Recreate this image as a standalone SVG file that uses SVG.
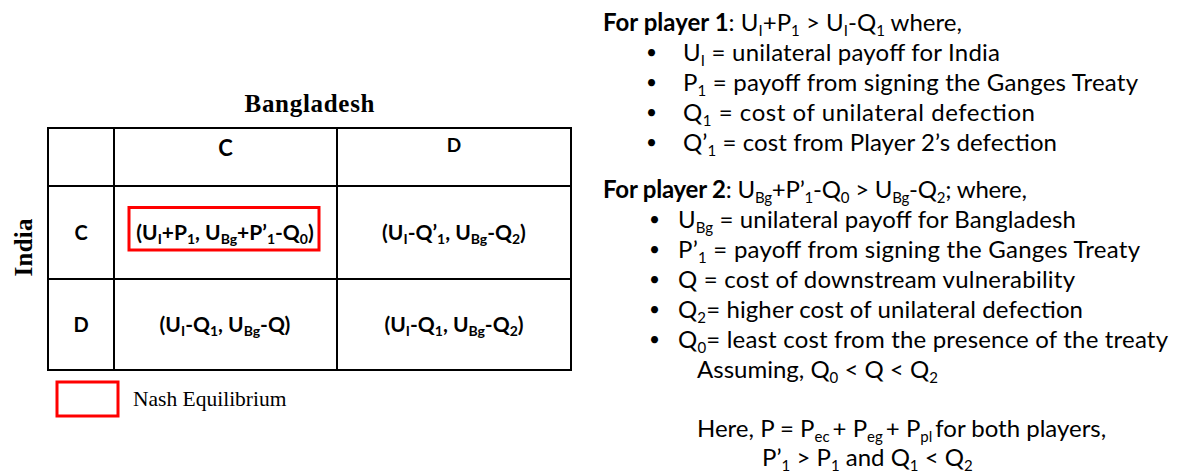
<svg xmlns="http://www.w3.org/2000/svg" width="1177" height="472" viewBox="0 0 1177 472">
  <style>
    .serif { font-family: "Liberation Serif", "Times New Roman", serif; fill: #000; }
    .cell { font-family: Lato, "Open Sans", sans-serif; font-weight: bold; font-size: 21px; fill: #000; text-anchor: middle; }
    .head { font-family: Lato, "Open Sans", sans-serif; font-weight: bold; fill: #000; text-anchor: middle; }
    .txt { font-family: Lato, "Open Sans", sans-serif; font-size: 24px; fill: #000; }
    .dot { font-family: Lato, "Open Sans", sans-serif; font-size: 19px; fill: #000; }
    .grid { stroke: #000; stroke-width: 2; fill: none; }
    .ne { stroke: #ff0000; stroke-width: 3; fill: none; }
    .s { font-size: 14px; }
    .t { font-size: 15px; }
  </style>

  <!-- Axis titles -->
  <g id="title-bangladesh">
    <text class="serif" x="309.5" y="112" font-size="25" font-weight="bold" text-anchor="middle" textLength="130" lengthAdjust="spacing">Bangladesh</text>
  </g>
  <g id="title-india">
    <text class="serif" transform="translate(31.5,247.5) rotate(-90)" x="0" y="0" font-size="25" font-weight="bold" text-anchor="middle" textLength="58" lengthAdjust="spacing">India</text>
  </g>

  <!-- Payoff matrix grid -->
  <g id="matrix-grid">
    <rect class="grid" x="48" y="128" width="523" height="242"/>
    <line class="grid" x1="114" y1="128" x2="114" y2="370"/>
    <line class="grid" x1="337" y1="128" x2="337" y2="370"/>
    <line class="grid" x1="48" y1="186" x2="571" y2="186"/>
    <line class="grid" x1="48" y1="279" x2="571" y2="279"/>
  </g>

  <!-- Strategy labels -->
  <g id="col-c"><text class="head" x="225.5" y="156" font-size="22">C</text></g>
  <g id="col-d"><text class="head" x="454" y="152" font-size="19">D</text></g>
  <g id="row-c"><text class="head" x="81" y="240" font-size="20">C</text></g>
  <g id="row-d"><text class="head" x="81" y="332" font-size="20">D</text></g>

  <!-- Payoff cells -->
  <g id="cell-cc">
    <rect class="ne" x="129" y="207.5" width="190" height="42.5"/>
    <text class="cell" x="225" y="240" font-size="20.5">(U<tspan class="s" dy="4">I</tspan><tspan dy="-4">+P</tspan><tspan class="s" dy="4">1</tspan><tspan dy="-4">, U</tspan><tspan class="s" dy="4">Bg</tspan><tspan dy="-4">+P’</tspan><tspan class="s" dy="4">1</tspan><tspan dy="-4">-Q</tspan><tspan class="s" dy="4">0</tspan><tspan dy="-4">)</tspan></text>
  </g>
  <g id="cell-cd">
    <text class="cell" x="454" y="240">(U<tspan class="s" dy="4">I</tspan><tspan dy="-4">-Q’</tspan><tspan class="s" dy="4">1</tspan><tspan dy="-4">, U</tspan><tspan class="s" dy="4">Bg</tspan><tspan dy="-4">-Q</tspan><tspan class="s" dy="4">2</tspan><tspan dy="-4">)</tspan></text>
  </g>
  <g id="cell-dc">
    <text class="cell" x="225" y="332">(U<tspan class="s" dy="4">I</tspan><tspan dy="-4">-Q</tspan><tspan class="s" dy="4">1</tspan><tspan dy="-4">, U</tspan><tspan class="s" dy="4">Bg</tspan><tspan dy="-4">-Q)</tspan></text>
  </g>
  <g id="cell-dd">
    <text class="cell" x="454" y="332">(U<tspan class="s" dy="4">I</tspan><tspan dy="-4">-Q</tspan><tspan class="s" dy="4">1</tspan><tspan dy="-4">, U</tspan><tspan class="s" dy="4">Bg</tspan><tspan dy="-4">-Q</tspan><tspan class="s" dy="4">2</tspan><tspan dy="-4">)</tspan></text>
  </g>

  <!-- Legend -->
  <g id="legend">
    <rect class="ne" x="57" y="382" width="61" height="34"/>
    <text class="serif" x="133" y="406" font-size="21.5">Nash Equilibrium</text>
  </g>

  <!-- Player 1 conditions -->
  <g id="player1">
    <text class="txt" x="603" y="31" textLength="359" lengthAdjust="spacing"><tspan font-weight="bold">For player 1</tspan>: U<tspan class="t" dy="5">I</tspan><tspan dy="-5">+P</tspan><tspan class="t" dy="5">1</tspan><tspan dy="-5"> &gt; U</tspan><tspan class="t" dy="5">I</tspan><tspan dy="-5">-Q</tspan><tspan class="t" dy="5">1</tspan><tspan dy="-5"> where,</tspan></text>
    <g class="dot">
      <text x="646" y="59">•</text>
      <text x="646" y="89">•</text>
      <text x="646" y="119">•</text>
      <text x="646" y="149">•</text>
    </g>
    <text class="txt" x="683" y="61" textLength="317" lengthAdjust="spacing">U<tspan class="t" dy="5">I</tspan><tspan dy="-5"> = unilateral payoff for India</tspan></text>
    <text class="txt" x="683" y="91" textLength="455" lengthAdjust="spacing">P<tspan class="t" dy="5">1</tspan><tspan dy="-5"> = payoff from signing the Ganges Treaty</tspan></text>
    <text class="txt" x="683" y="121" textLength="352" lengthAdjust="spacing">Q<tspan class="t" dy="5">1</tspan><tspan dy="-5"> = cost of unilateral defection</tspan></text>
    <text class="txt" x="683" y="151" textLength="374" lengthAdjust="spacing">Q’<tspan class="t" dy="5">1</tspan><tspan dy="-5"> = cost from Player 2’s defection</tspan></text>
  </g>

  <!-- Player 2 conditions -->
  <g id="player2">
    <text class="txt" x="603" y="198" textLength="424" lengthAdjust="spacing"><tspan font-weight="bold">For player 2</tspan>: U<tspan class="t" dy="5">Bg</tspan><tspan dy="-5">+P’</tspan><tspan class="t" dy="5">1</tspan><tspan dy="-5">-Q</tspan><tspan class="t" dy="5">0</tspan><tspan dy="-5"> &gt; U</tspan><tspan class="t" dy="5">Bg</tspan><tspan dy="-5">-Q</tspan><tspan class="t" dy="5">2</tspan><tspan dy="-5">; where,</tspan></text>
    <g class="dot">
      <text x="649" y="226">•</text>
      <text x="649" y="256">•</text>
      <text x="649" y="286">•</text>
      <text x="649" y="316">•</text>
      <text x="649" y="346">•</text>
    </g>
    <text class="txt" x="678" y="228" textLength="398" lengthAdjust="spacing">U<tspan class="t" dy="5">Bg</tspan><tspan dy="-5"> = unilateral payoff for Bangladesh</tspan></text>
    <text class="txt" x="678" y="258" textLength="462" lengthAdjust="spacing">P’<tspan class="t" dy="5">1</tspan><tspan dy="-5"> = payoff from signing the Ganges Treaty</tspan></text>
    <text class="txt" x="678" y="288" textLength="397" lengthAdjust="spacing">Q = cost of downstream vulnerability</text>
    <text class="txt" x="678" y="318" textLength="405" lengthAdjust="spacing">Q<tspan class="t" dy="5">2</tspan><tspan dy="-5">= higher cost of unilateral defection</tspan></text>
    <text class="txt" x="678" y="348" textLength="490" lengthAdjust="spacing">Q<tspan class="t" dy="5">0</tspan><tspan dy="-5">= least cost from the presence of the treaty</tspan></text>
    <text class="txt" x="697" y="378">Assuming, Q<tspan class="t" dy="5">0</tspan><tspan dy="-5"> &lt; Q &lt; Q</tspan><tspan class="t" dy="5">2</tspan></text>
  </g>

  <!-- Note on payoff composition -->
  <g id="note">
    <text class="txt" x="697" y="437" font-size="23">Here, P = P<tspan class="t" dy="5">ec</tspan><tspan dx="3" dy="-5">+ P</tspan><tspan class="t" dy="5">eg</tspan><tspan dx="3" dy="-5">+ P</tspan><tspan class="t" dy="5">pl</tspan><tspan dx="3" dy="-5">for both players,</tspan></text>
    <text class="txt" x="762" y="466">P’<tspan class="t" dy="5">1</tspan><tspan dy="-5"> &gt; P</tspan><tspan class="t" dy="5">1</tspan><tspan dy="-5"> and Q</tspan><tspan class="t" dy="5">1</tspan><tspan dy="-5"> &lt; Q</tspan><tspan class="t" dy="5">2</tspan></text>
  </g>
</svg>
